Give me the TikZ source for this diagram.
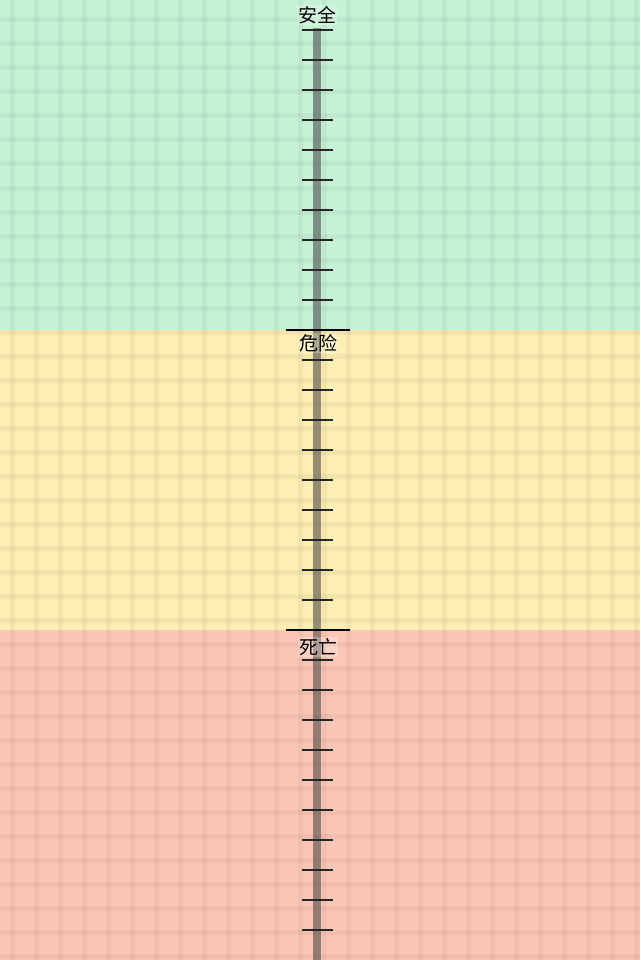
\documentclass[tikz,border=0pt]{standalone}
\usepackage{fontspec}
\newfontfamily\cjk{Noto Sans CJK SC}
\usepackage{xcolor}
\usetikzlibrary{positioning}
\definecolor{safegreen}{HTML}{C6F2D6}
\definecolor{warnyellow}{HTML}{FDEEB4}
\definecolor{deadred}{HTML}{FCC6B6}

\begin{document}
\begin{tikzpicture}[x=1pt,y=-1pt,
  band/.style={fill=#1},
  gridline/.style={draw=black,opacity=0.04,line width=5pt},
  scalebar/.style={draw=black!75,opacity=0.55,line width=8pt},
  tick/.style={draw=black!85,line width=1.6pt},
  bound/.style={draw=black,line width=1.8pt},
  zone/.style={font=\cjk\fontsize{19}{19}\selectfont,inner sep=1pt,fill=white,fill opacity=0.25,text opacity=1}]
\useasboundingbox (0,0) rectangle (640,960);
\fill[band=safegreen] (0,0) rectangle (640,330);
\fill[band=warnyellow] (0,330) rectangle (640,630);
\fill[band=deadred] (0,630) rectangle (640,960);
% faint woven grid
\foreach \g in {12,36,...,636} \draw[gridline] (\g,0) -- (\g,960);
\foreach \g in {20,44,...,956} \draw[gridline] (0,\g) -- (640,\g);
% scale
\coordinate (bartop) at (317,28);
\coordinate (barbottom) at (317,960);
\draw[scalebar] (bartop) -- (barbottom);
\foreach \t in {30,60,...,930} {
  \ifnum\t=330\else\ifnum\t=630\else
    \draw[tick] (302,\t) -- (333,\t);
  \fi\fi
}
\draw[bound] (286,330) -- (350,330);
\draw[bound] (286,630) -- (350,630);
\node[zone] (safe) at (317,15) {安全};
\node[zone] (danger) at (318,343) {危险};
\node[zone] (death) at (318,647) {死亡};
\end{tikzpicture}
\end{document}
